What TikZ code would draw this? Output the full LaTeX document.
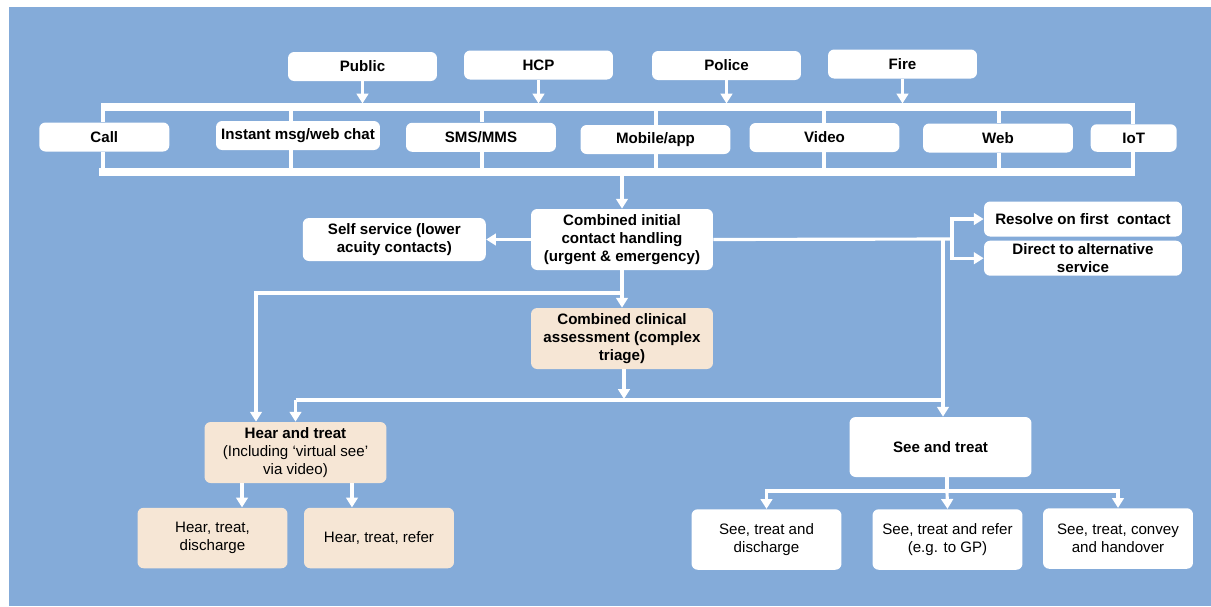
\documentclass[tikz,border=0pt]{standalone}
\usepackage{fontspec}
\setmainfont{Liberation Sans}
\usetikzlibrary{arrows.meta,shapes,backgrounds,positioning}

\definecolor{bgblue}{RGB}{132,171,217}
\definecolor{peach}{RGB}{246,230,213}
\newcommand{\dgfont}{\fontsize{8.6}{10.3}\selectfont}
\pgfdeclarelayer{canvas}
\pgfsetlayers{canvas,background,main}

\begin{document}
\begin{tikzpicture}[x=0.02cm,y=-0.02cm,>={Triangle[length=5.6pt,width=6.6pt]},font=\dgfont\bfseries]
        \tikzstyle{box}=[rectangle, rounded corners=3.5pt, fill=white, align=center, inner sep=1pt]
        \tikzstyle{src}=[box, minimum width=2.98cm, minimum height=0.58cm]
        \tikzstyle{chan}=[box, minimum width=3cm, minimum height=0.58cm]
        \tikzstyle{big}=[box, minimum width=3.64cm, minimum height=1.22cm]
        \tikzstyle{leaf}=[box, minimum width=3cm, minimum height=1.21cm, font=\dgfont\mdseries]
        \tikzstyle{wire}=[white, line width=1.8pt]
        \tikzstyle{bar}=[white, line width=4pt]

        \useasboundingbox (0,0) rectangle (1211,606);
        \begin{pgfonlayer}{canvas}
          \fill[white] (0,0) rectangle (1211,606);
          \fill[bgblue] (9,7) rectangle (1211,606);
        \end{pgfonlayer}

        % who makes contact
        \node[src]  (pub)  at (362.5,66.5) {Public};
        \node[src]  (hcp)  at (538.5,65)   {HCP};
        \node[src]  (pol)  at (726.5,65.5) {Police};
        \node[src]  (fire) at (902.5,64)   {Fire};

        % channels
        \node[chan, minimum width=2.6cm]  (call) at (104.3,137) {Call};
        \node[chan, minimum width=3.28cm] (inst) at (298,135.5) {Instant msg/web chat};
        \node[chan] (sms)  at (481,137.3)   {SMS/MMS};
        \node[chan] (mob)  at (655.5,139.5) {Mobile/app};
        \node[chan] (vid)  at (824.5,137.5) {Video};
        \node[chan] (web)  at (998,138)     {Web};
        \node[chan, minimum width=1.72cm, minimum height=0.55cm] (iot) at (1133.7,138) {IoT};

        % handling
        \node[big]  (cich) at (622,239.5) {Combined initial\\contact handling\\(urgent \& emergency)};
        \node[box, minimum width=3.66cm, minimum height=0.86cm] (self) at (394.3,239.5) {Self service (lower\\acuity contacts)};
        \node[box, minimum width=3.96cm, minimum height=0.7cm] (res) at (1083,219) {Resolve on first\ \ contact};
        \node[box, minimum width=3.96cm, minimum height=0.7cm] (alt) at (1083,258.2) {Direct to alternative\\service};
        \node[big, fill=peach] (ccas) at (622,338.5) {Combined clinical\\assessment (complex\\triage)};
        \node[big, fill=peach] (hear) at (295.5,452.5) {Hear and treat\\\mdseries(Including ‘virtual see’\\\mdseries via video)};
        \node[big, minimum height=1.2cm] (see) at (940.5,447) {See and treat};

        % outcomes
        \node[leaf, fill=peach] (hd)  at (212.5,538)   {Hear, treat,\\discharge};
        \node[leaf, fill=peach] (hr)  at (379,538)     {Hear, treat, refer};
        \node[leaf] (std) at (766.5,539.5) {See, treat and\\discharge};
        \node[leaf] (str) at (947.5,539.5) {See, treat and refer\\(e.g. to GP)};
        \node[leaf] (stc) at (1118,538.5)  {See, treat, convey\\and handover};

        % bracket round the channels
        \coordinate (tl) at (101,107);
        \coordinate (tr) at (1135,107);
        \coordinate (bl) at (99,172);
        \coordinate (br) at (1135,172);
        \begin{scope}[on background layer]
          \draw[bar] (tl) -- (tr);
          \draw[bar] (bl) -- (br);
          \foreach \n/\x in {call/103, inst/291, sms/482, mob/656, vid/824, web/999, iot/1133}
          {
            \draw[wire] (\x,107) -- (\x,107 |- \n.north);
            \draw[wire] (\n.south -| \x,0) -- (\x,172);
          }
        \end{scope}
        \foreach \n in {pub,hcp,pol,fire}
          \draw[wire,->] (\n.south) -- (\n.south |- 0,103.5);
        \draw[wire,->] (cich.north |- 0,175) -- (cich.north);

        % from initial contact
        \coordinate (jr) at (952,239);
        \coordinate (js) at (943,239);
        \draw[wire,->] (cich.west) -- (self.east);
        \draw[wire] (cich.east) -- (jr);
        \draw[wire,->] (jr) |- (res.west);
        \draw[wire,->] (jr) |- (alt.west);
        \draw[wire,->] (cich.south) -- (ccas.north);

        \coordinate (jh) at (622,293);
        \coordinate (hl) at (256,293);
        \draw[wire,->] (jh) -- (hl) -- (hl |- hear.north);

        % from clinical assessment
        \coordinate (jm) at (624,399);
        \coordinate (ml) at (295.5,400);
        \coordinate (mr) at (943,400);
        \draw[wire,->] (ccas.south -| jm) -- (jm);
        \draw[wire] (ml) -- (mr);
        \draw[wire,->] (ml) -- (hear.north);
        \draw[wire,->] (js) -- (js |- see.north);

        % outcomes of hear and treat
        \draw[wire,->] ([xshift=-1.07cm]hear.south) -- ([xshift=-1.07cm]hear.south |- hd.north);
        \draw[wire,->] ([xshift=1.13cm]hear.south) -- ([xshift=1.13cm]hear.south |- hr.north);

        % outcomes of see and treat
        \coordinate (sb) at (947,491);
        \draw[wire] (see.south -| sb) -- (sb);
        \draw[wire,->] (sb) -| (std.north);
        \draw[wire,->] (sb) -| (stc.north);
        \draw[wire,->] (sb) -- (str.north);
\end{tikzpicture}
\end{document}
